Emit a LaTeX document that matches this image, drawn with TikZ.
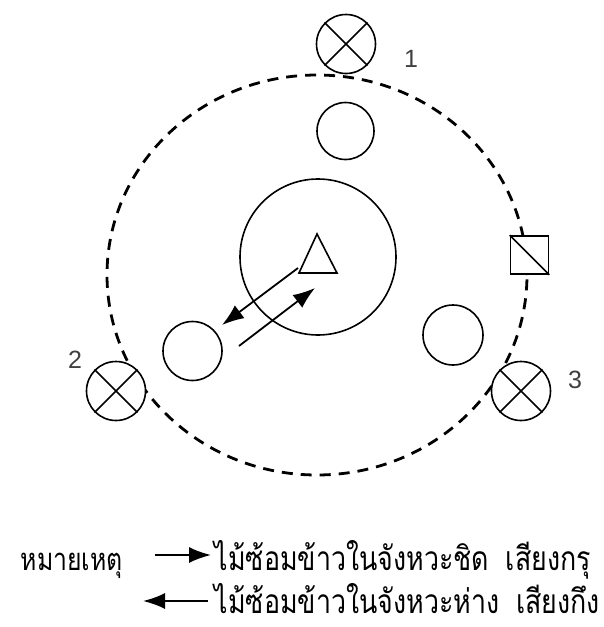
\documentclass[tikz,border=0pt]{standalone}
\usepackage{fontspec}
\newfontfamily\thaifont[Script=Thai,FakeStretch=0.8]{Loma}
\newfontfamily\numfont{Liberation Sans}
\usetikzlibrary{arrows.meta,positioning}

\begin{document}
\begin{tikzpicture}[x=1pt,y=-1pt,line width=1.6pt,
  xcirc/.style={circle,draw,fill=white,minimum size=59pt,inner sep=0pt},
  ring/.style={circle,draw,inner sep=0pt},
  num/.style={font=\numfont\fontsize{25}{28}\selectfont,text=black!75,inner sep=0pt},
  leg/.style={font=\thaifont\fontsize{33.5}{36}\selectfont,anchor=base west,inner sep=0pt},
  arr/.style={-{Latex[length=22pt,width=16pt]},line width=1.8pt}]
  \useasboundingbox (0,0) rectangle (603,627);
  % track
  \draw[dash pattern=on 11pt off 8pt,line width=2.8pt] (317,275) ellipse [x radius=210pt,y radius=200pt];
  \node[ring,minimum size=156pt] (pit) at (318,257) {};
  \draw (317,234) -- (337,273) -- (299,273) -- cycle;
  \coordinate (tri) at (298,268);
  % players
  \node[ring,minimum size=57pt] (p1) at (345.5,131) {};
  \node[ring,minimum size=59pt] (p2) at (192.5,351) {};
  \node[ring,minimum size=60pt] (p3) at (453,335) {};
  % crossed
  \node[xcirc] (c1) at (346,44) {};
  \node[xcirc] (c2) at (116,391) {};
  \node[xcirc] (c3) at (521,391) {};
  \foreach \c in {c1,c2,c3}
    \draw (\c.north west) -- (\c.south east) (\c.north east) -- (\c.south west);
  \node[draw,fill=white,minimum size=38pt,inner sep=0pt] (sq) at (529.5,255) {};
  \draw (sq.north west) -- (sq.south east);
  \node[num] (n1) at (411,59) {1};
  \node[num] (n2) at (75,360) {2};
  \node[num] (n3) at (575,380) {3};
  % moves
  \coordinate (inTip) at (222,325);
  \coordinate (outS) at (239,346);
  \coordinate (outTip) at (315,288);
  \draw[arr] (tri) -- (inTip);
  \draw[arr] (outS) -- (outTip);
  % legend
  \node[leg,font=\thaifont\fontsize{31}{34}\selectfont] (note) at (20,570) {หมายเหตุ};
  \coordinate (l1s) at (155,555);
  \coordinate (l1e) at (211,555);
  \draw[arr] (l1s) -- (l1e);
  \node[leg] (t1) at (214,570) {ไม้ซ้อมข้าวในจังหวะชิด\hspace{0.5em}เสียงกรุ};
  \coordinate (l2s) at (208,601);
  \coordinate (l2e) at (143,601);
  \draw[arr] (l2s) -- (l2e);
  \node[leg,text depth=0pt] (t2) at (214,613) {ไม้ซ้อมข้าวในจังหวะห่าง\hspace{0.5em}เสียงกึง};
\end{tikzpicture}
\end{document}
